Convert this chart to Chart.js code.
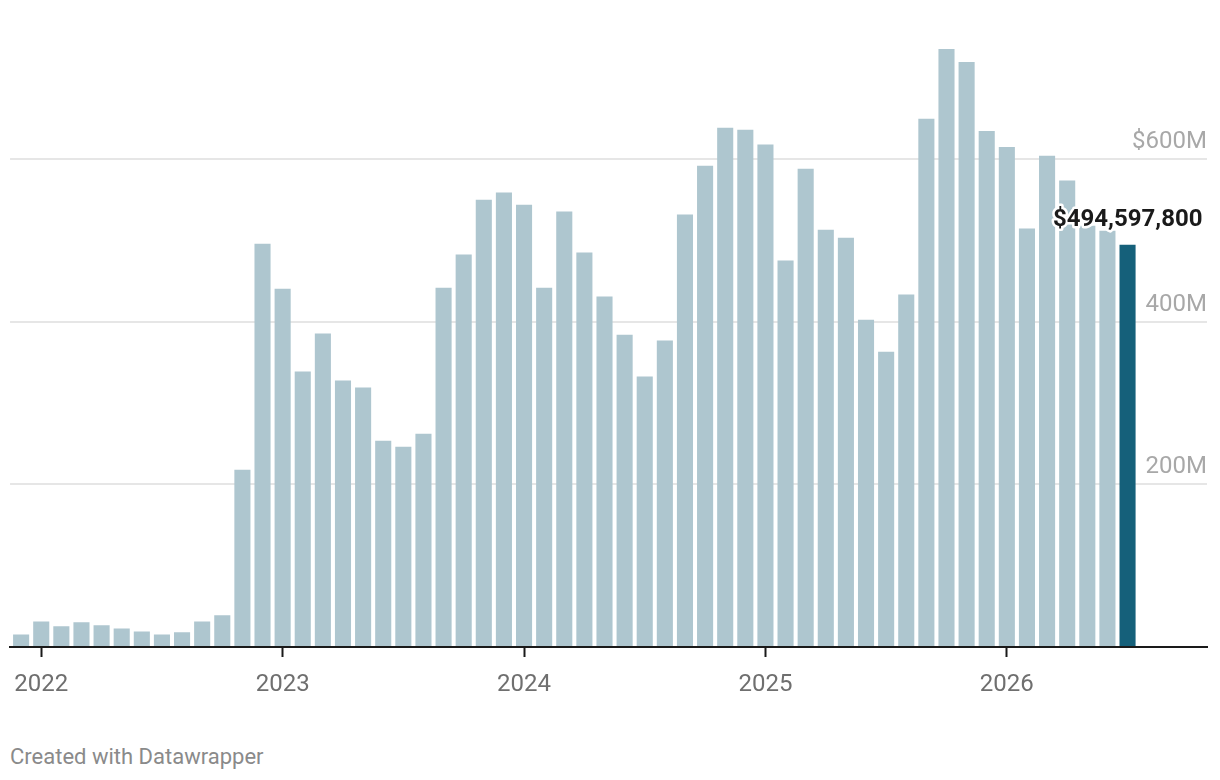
<!DOCTYPE html>
<html>
<head>
<meta charset="utf-8">
<script src="https://cdn.jsdelivr.net/npm/chart.js@4.4.1/dist/chart.umd.min.js"></script>
<style>
  html, body { margin:0; padding:0; background:#fff; }
  body { width:1220px; height:780px; position:relative; overflow:hidden; font-family:Roboto, "Noto Sans", sans-serif; }
  #wrap { position:absolute; left:0; top:0; width:1220px; height:700px; }
  #credit { position:absolute; left:10px; top:744px; font-size:22px; color:#8a8a8a; }
</style>
</head>
<body>
<div id="wrap"><canvas id="c"></canvas></div>
<div id="credit">Created with Datawrapper</div>
<script>
// monthly values, $ millions, Dec 2021 .. Jul 2026
const months = [
  "2021-12",
  "2022-01","2022-02","2022-03","2022-04","2022-05","2022-06","2022-07","2022-08","2022-09","2022-10","2022-11","2022-12",
  "2023-01","2023-02","2023-03","2023-04","2023-05","2023-06","2023-07","2023-08","2023-09","2023-10","2023-11","2023-12",
  "2024-01","2024-02","2024-03","2024-04","2024-05","2024-06","2024-07","2024-08","2024-09","2024-10","2024-11","2024-12",
  "2025-01","2025-02","2025-03","2025-04","2025-05","2025-06","2025-07","2025-08","2025-09","2025-10","2025-11","2025-12",
  "2026-01","2026-02","2026-03","2026-04","2026-05","2026-06","2026-07"
];
const values = [
  15.5,
  31.5, 25.4, 30.3, 26.6, 22.9, 19.2, 15.5, 18.0, 31.5, 38.9, 218.0, 496.0,
  440.7, 338.8, 385.5, 327.8, 319.2, 253.6, 246.4, 262.4, 441.9, 482.8, 550.1, 559.1,
  544.0, 441.9, 535.5, 485.2, 431.1, 384.0, 332.7, 376.9, 531.8, 592.0, 638.6, 636.2,
  617.9, 475.3, 588.2, 513.1, 503.2, 402.4, 363.1, 433.4, 649.6, 735.5, 719.4, 634.6,
  615.0, 514.6, 604.1, 573.6, 518.0, 512.0, 494.5978
];
const yTicks = [0, 200, 400, 600];
const yTickLabels = ["", "200M", "400M", "$600M"];

const BAR = "#aec6cf";
const BAR_LAST = "#15607a";

const yearIdx = months.map((m,i)=>m.endsWith("-01") ? i : -1).filter(i=>i>=0);

const lastLabel = {
  id: "lastLabel",
  afterDatasetsDraw(chart){
    const meta = chart.getDatasetMeta(0);
    const i = values.length - 1;
    const bar = meta.data[i];
    const txt = "$" + Math.round(values[i]*1e6).toLocaleString("en-US");
    const ctx = chart.ctx;
    ctx.save();
    ctx.font = "bold 24px Roboto";
    ctx.textAlign = "right";
    ctx.textBaseline = "middle";
    ctx.lineJoin = "round";
    ctx.lineWidth = 5;
    ctx.strokeStyle = "#fff";
    const x = bar.x + 75, y = bar.y - 25;
    ctx.strokeText(txt, x, y);
    ctx.fillStyle = "#1a1a1a";
    ctx.fillText(txt, x, y);
    ctx.restore();
  }
};

new Chart(document.getElementById("c"), {
  type: "bar",
  data: {
    datasets: [{
      data: values.map((v,i)=>({x:i, y:v})),
      backgroundColor: values.map((v,i)=> i===values.length-1 ? BAR_LAST : BAR),
      barPercentage: 0.8,
      categoryPercentage: 1.0,
    }]
  },
  options: {
    responsive: true, maintainAspectRatio: false, animation: false,
    layout: { padding: { left: 10, right: 13, top: 0, bottom: 0 } },
    plugins: { legend: { display: false }, tooltip: { enabled: false } },
    scales: {
      x: {
        type: "linear", min: -0.55, max: 58.95, offset: false,
        afterBuildTicks: s => { s.ticks = yearIdx.map(v=>({value:v})); },
        afterFit: s => { s.height = 53; },
        ticks: {
          callback: v => months[v].slice(0,4),
          color: "#6f6f6f", font: { size: 24, family: "Roboto" }, padding: 14,
          maxRotation: 0, autoSkip: false,
        },
        grid: { offset: false, drawOnChartArea: false, drawTicks: true, tickLength: 10, tickWidth: 2, tickColor: "#1a1a1a" },
        border: { display: true, color: "#1a1a1a", width: 2 },
      },
      y: {
        position: "right", min: 0, max: 778,
        afterBuildTicks: s => { s.ticks = yTicks.map(v=>({value:v})); },
        ticks: {
          mirror: true, padding: 0, labelOffset: -17,
          callback: (v) => yTickLabels[yTicks.indexOf(v)],
          color: "#a8a8a8", font: { size: 24, family: "Roboto" },
        },
        grid: { color: "#e6e6e6", lineWidth: 2, drawTicks: false },
        border: { display: false },
      }
    }
  },
  plugins: [lastLabel]
});
</script>
</body>
</html>
